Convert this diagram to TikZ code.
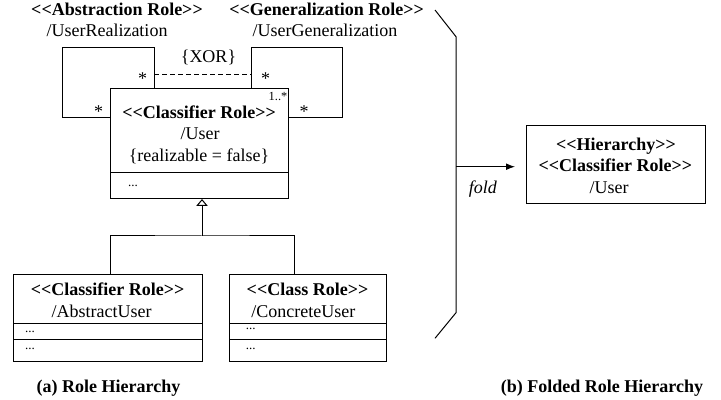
\documentclass[tikz,border=0pt]{standalone}
\usepackage{fontspec}
\setmainfont{Liberation Serif}
\usetikzlibrary{arrows.meta}
% stereotype label in bold with double angle brackets
\newcommand\stereo[1]{\textbf{<{}<#1>{}>}}
\begin{document}
\begin{tikzpicture}[x=0.5pt,y=-0.5pt,line width=0.5pt,
  box/.style={draw,rectangle,inner sep=0pt,outer sep=0pt},
  txt/.style={inner sep=0pt,outer sep=0pt,anchor=base,font=\fontsize{9}{11}\selectfont},
  smalltxt/.style={txt,font=\fontsize{6.2}{7}\selectfont},
  dotstxt/.style={txt,font=\fontsize{6.5}{7}\selectfont},
  captxt/.style={txt,font=\fontsize{9}{11}\selectfont\bfseries},
]
\useasboundingbox (0,0) rectangle (721,400);

% ---------- (a) role hierarchy ----------
\node[box,minimum width=89pt,minimum height=55.15pt] (user) at (199.7,143.85) {};
\draw ([yshift=-41.8pt]user.north west) -- ([yshift=-41.8pt]user.north east);
\node[txt] (userst) at (199,119) {\stereo{Classifier Role}};
\node[txt] (username) at (200,140) {/User};
\node[txt] (usercons) at (199,161.5) {\{realizable = false\}};
\node[dotstxt] (userdots) at (133,187) {...};
\node[smalltxt] (usermult) at (278,101) {1..*};

% abstraction role loop
\coordinate (lA) at (62,117.3);
\coordinate (lB) at (62,47.3);
\coordinate (lC) at (154,47.3);
\draw (user.west |- lA) -- (lA) -- (lB) -- (lC) -- (lC |- user.north);
% generalization role loop
\coordinate (rA) at (342.3,117.3);
\coordinate (rB) at (342.3,47.3);
\coordinate (rC) at (251,47.3);
\draw (user.east |- rA) -- (rA) -- (rB) -- (rC) -- (rC |- user.north);
% xor constraint between the two loops
\coordinate (xL) at (154,74.5);
\coordinate (xR) at (251,74.5);
\draw[dash pattern=on 2.5pt off 1.5pt] (xL) -- (xR);
\node[txt] (xor) at (208.5,63) {\{XOR\}};

\node[txt] (s1) at (142.7,85) {*};
\node[txt] (s2) at (265.7,85) {*};
\node[txt] (s3) at (98.7,117.7) {*};
\node[txt] (s4) at (304,117.7) {*};

\node[txt] (absst) at (117,16) {\stereo{Abstraction Role}};
\node[txt] (absname) at (107,36.5) {/UserRealization};
\node[txt] (genst) at (326.5,16) {\stereo{Generalization Role}};
\node[txt] (genname) at (325,36.5) {/UserGeneralization};

% sub roles
\node[box,minimum width=94.5pt,minimum height=43.3pt] (abs) at (107.8,318) {};
\draw ([yshift=-24.3pt]abs.north west) -- ([yshift=-24.3pt]abs.north east);
\draw ([yshift=-32.3pt]abs.north west) -- ([yshift=-32.3pt]abs.north east);
\node[txt] (absst2) at (107.7,295) {\stereo{Classifier Role}};
\node[txt] (absuser) at (101.7,317.7) {/AbstractUser};
\node[dotstxt] (absdots1) at (30,332.5) {...};
\node[dotstxt] (absdots2) at (30,349) {...};

\node[box,minimum width=78.5pt,minimum height=43.3pt] (con) at (307.8,318) {};
\draw ([yshift=-24.3pt]con.north west) -- ([yshift=-24.3pt]con.north east);
\draw ([yshift=-32.3pt]con.north west) -- ([yshift=-32.3pt]con.north east);
\node[txt] (const) at (307.5,295) {\stereo{Class Role}};
\node[txt] (conuser) at (303.3,317.7) {/ConcreteUser};
\node[dotstxt] (condots1) at (250.7,329.5) {...};
\node[dotstxt] (condots2) at (250.7,349) {...};

% generalization tree
\coordinate (gen) at (202,236);
\draw ([xshift=1.45pt]abs.north) |- (gen) -| ([xshift=-6.9pt]con.north);
\draw[-{Triangle[open,length=3.5pt,width=5.75pt]}] (gen) -- (gen |- user.south);

\node[captxt] (capa) at (108.5,392.7) {(a) Role Hierarchy};

% ---------- fold bracket ----------
\coordinate (bT) at (435,10);
\coordinate (b1) at (456,36.7);
\coordinate (b2) at (456,312.7);
\coordinate (bB) at (435,338.3);
\draw (bT) -- (b1) -- (b2) -- (bB);
\coordinate (foldstart) at (456,166.7);

% ---------- (b) folded hierarchy ----------
\node[box,minimum width=89.5pt,minimum height=39pt] (hier) at (615.5,165) {};
\node[txt] (hierst) at (616,150.7) {\stereo{Hierarchy}};
\node[txt] (hierst2) at (615.3,171.7) {\stereo{Classifier Role}};
\node[txt] (hiername) at (609,194) {/User};

\draw[-{Latex[length=4.5pt,width=3.4pt]},shorten >=5.5pt] (foldstart) -- (hier.west |- foldstart);
\node[txt] (fold) at (483,194) {\textit{fold}};

\node[captxt] (capb) at (602,392.7) {(b) Folded Role Hierarchy};
\end{tikzpicture}
\end{document}
